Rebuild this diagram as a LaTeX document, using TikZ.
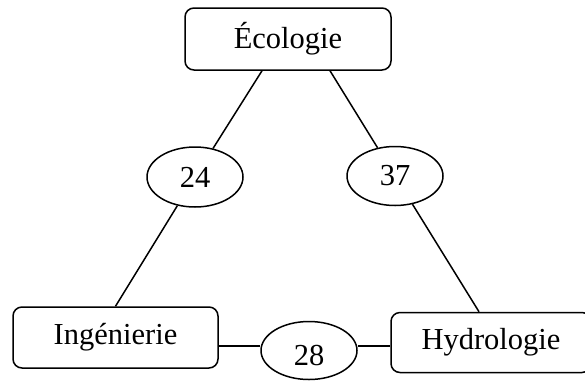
\documentclass[tikz,border=0pt]{standalone}
\usepackage{fontspec}
\setmainfont{Liberation Serif}
\usetikzlibrary{shapes.geometric}
\begin{document}
\begin{tikzpicture}[x=1pt,y=-1pt,
  every node/.style={inner sep=0pt,font=\fontsize{30.5}{35}\selectfont},
  field/.style={draw,line width=1.5pt,rounded corners=9pt,fill=white,rectangle},
  count/.style={draw,line width=1.5pt,ellipse,fill=white},
  link/.style={line width=1.5pt}]
\useasboundingbox (0,0) rectangle (585,381);
\clip (0,0) rectangle (585,381);
\node[field,minimum width=206pt,minimum height=62pt] (eco) at (288,39) {Écologie};
\node[field,minimum width=205pt,minimum height=61pt] (ing) at (115.5,337.5) {Ingénierie};
\node[field,overlay,minimum width=200pt,minimum height=60pt] (hyd) at (491,342.5) {Hydrologie};
\node[count,minimum width=96pt,minimum height=60pt] (n24) at (195,177) {24};
\node[count,minimum width=96pt,minimum height=59pt] (n37) at (395,176) {37};
\node[count,minimum width=96pt,minimum height=58pt] (n28) at (309,350.5) {};
\node (t28) at (309,355) {28};
\coordinate (e1) at ([xshift=-26pt]eco.south);
\coordinate (e2) at ([xshift=42pt]eco.south);
\coordinate (h1) at ([xshift=-12pt]hyd.north);
\coordinate (i1) at ([yshift=-8.5pt]ing.east);
\coordinate (h2) at (i1 -| hyd.west);
\draw[link] (e1) -- (n24);
\draw[link] (n24) -- (ing.north);
\draw[link] (e2) -- (n37);
\draw[link] (n37) -- (h1);
\draw[link] (i1) -- (i1 -| n28.west);
\draw[link] (i1 -| n28.east) -- (h2);
\end{tikzpicture}
\end{document}
